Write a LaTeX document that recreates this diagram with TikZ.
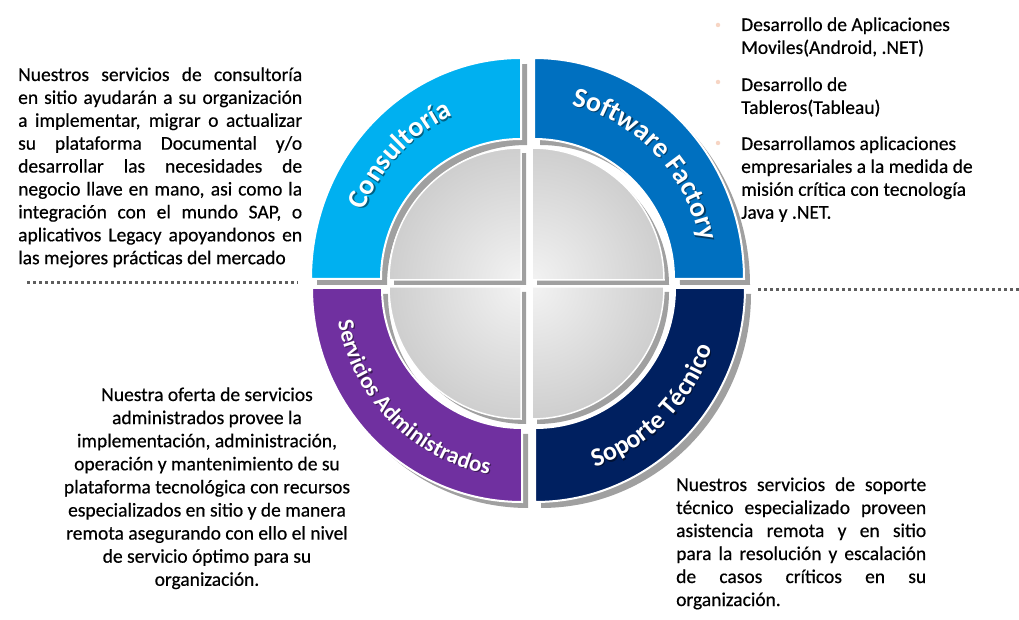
\documentclass[tikz,border=0pt]{standalone}
\usepackage{fontspec}
\setmainfont{Carlito}
\newfontfamily\bodyface[FakeBold=0.5]{Carlito}
\usetikzlibrary{decorations.text}

\definecolor{consult}{HTML}{00B0F0}
\definecolor{softf}{HTML}{0070C0}
\definecolor{servadm}{HTML}{7030A0}
\definecolor{soporte}{HTML}{002060}
\definecolor{shadowgray}{HTML}{A0A0A0}
\definecolor{dotgray}{HTML}{5E5E5E}
\definecolor{bulletpeach}{HTML}{F7D5C4}

% one ring quadrant (upper-left orientation), #1 = vertical outer radius
\newcommand\ringpath[1]{(-210,0) -- (-140,0) arc[start angle=180,end angle=90,radius=140]
  -- (0,#1) arc[start angle=90,end angle=180,x radius=210,y radius=#1] -- cycle}
% one quadrant of the inner disc
\newcommand\diskpath{(0,0) -- (-132,0) arc[start angle=180,end angle=90,radius=132] -- cycle}
% justified line of a given width
\newcommand\jl[2]{\makebox[#1][s]{#2}}
\newcommand\ringfont{\bfseries\fontsize{28}{28}\selectfont}
\newcommand\ringfontsm{\bfseries\fontsize{23}{23}\selectfont}
\newcommand\ringfontmd{\bfseries\fontsize{26}{26}\selectfont}
\newcommand\bodysize{\bodyface\fontsize{19.5}{22.9}\selectfont}

\tikzset{
  ringshadow/.style={fill=shadowgray},
  ringseg/.style={fill=#1, draw=white, line width=2pt},
  diskseg/.style={draw=white, line width=1.5pt},
  bodytext/.style={inner sep=0pt, text=black},
  dotline/.style={dotgray, line width=3pt, dash pattern=on 3.4pt off 2.6pt},
  bulletdot/.style={circle, fill=bulletpeach, minimum size=4.5pt, inner sep=0pt},
  labelshadow/.style={opacity=0.45},
}

\begin{document}
\begin{tikzpicture}[x=1pt,y=1pt]
\useasboundingbox (0,0) rectangle (1019,619);

% ---------------- ring: shadows ----------------
\fill[ringshadow, shift={(6,-6)}, shift={(521,340)}] \ringpath{221};
\fill[ringshadow, shift={(6,-6)}, shift={(534,340)}, xscale=-1] \ringpath{221};
\fill[ringshadow, shift={(6,-6)}, shift={(522,331)}, yscale=-1] \ringpath{214};
\fill[ringshadow, shift={(6,-6)}, shift={(535,331)}, xscale=-1, yscale=-1] \ringpath{214};

% ---------------- ring: coloured quadrants ----------------
\path[ringseg=consult, shift={(521,340)}] \ringpath{221};
\path[ringseg=softf, shift={(534,340)}, xscale=-1] \ringpath{221};
\path[ringseg=servadm, shift={(522,331)}, yscale=-1] \ringpath{214};
\path[ringseg=soporte, shift={(535,331)}, xscale=-1, yscale=-1] \ringpath{214};

% ---------------- inner disc ----------------
\foreach \cx/\cy/\sx/\sy/\nm in {521/339/1/1/dtl, 532/339/-1/1/dtr, 521/332/1/-1/dbl, 532/332/-1/-1/dbr}{
  \fill[ringshadow, shift={(5,-5)}, shift={(\cx,\cy)}, xscale=\sx, yscale=\sy] \diskpath;
  \begin{scope}[shift={(\cx,\cy)}, xscale=\sx, yscale=\sy]
    \begin{scope}
      \clip \diskpath;
      \shade[inner color=black!5, outer color=black!21] (0,0) circle[radius=150];
    \end{scope}
    \draw[diskseg] \diskpath;
    \coordinate (\nm) at (0,0);
  \end{scope}
}

% ---------------- ring labels ----------------
\begin{scope}[labelshadow, shift={(1.2,-1.2)}]
\path[shift={(521,340)}, decorate, decoration={text along path, text align=center,
  text color=black, text={|\ringfont|Consultoría}}]
  (-170,0) arc[start angle=180,end angle=90,x radius=170,y radius=178];
\path[shift={(534,340)}, decorate, decoration={text along path, text align=center,
  text color=black, text={|\ringfont|Software Factory}}]
  (0,178) arc[start angle=90,end angle=0,x radius=170,y radius=178];
\path[shift={(522,331)}, decorate, decoration={text along path, text align=center,
  text color=black, text={|\ringfontsm|Servicios Administrados}}]
  (-187,0) arc[start angle=180,end angle=270,x radius=187,y radius=189];
\path[shift={(535,331)}, decorate, decoration={text along path, text align=center,
  text color=black, text={|\ringfontmd|Soporte Técnico}}]
  (0,-189) arc[start angle=270,end angle=360,x radius=187,y radius=189];
\end{scope}

\path[shift={(521,340)}, decorate, decoration={text along path, text align=center,
  text color=white, text={|\ringfont|Consultoría}}]
  (-170,0) arc[start angle=180,end angle=90,x radius=170,y radius=178];
\path[shift={(534,340)}, decorate, decoration={text along path, text align=center,
  text color=white, text={|\ringfont|Software Factory}}]
  (0,178) arc[start angle=90,end angle=0,x radius=170,y radius=178];
\path[shift={(522,331)}, decorate, decoration={text along path, text align=center,
  text color=white, text={|\ringfontsm|Servicios Administrados}}]
  (-187,0) arc[start angle=180,end angle=270,x radius=187,y radius=189];
\path[shift={(535,331)}, decorate, decoration={text along path, text align=center,
  text color=white, text={|\ringfontmd|Soporte Técnico}}]
  (0,-189) arc[start angle=270,end angle=360,x radius=187,y radius=189];

% ---------------- dotted separators ----------------
\coordinate (sepL1) at (27,336);
\coordinate (sepL2) at (298,336);
\coordinate (sepR1) at (758,329);
\coordinate (sepR2) at (1019,329);
\draw[dotline] (sepL1) -- (sepL2);
\draw[dotline] (sepR1) -- (sepR2);

% ---------------- texts ----------------
\node[bodytext, anchor=base west] (consulttxt) at (18,538) {\parbox[t]{284pt}{\bodysize
\jl{284pt}{Nuestros servicios de consultoría}\\
\jl{284pt}{en sitio ayudarán a su organización}\\
\jl{284pt}{a implementar, migrar o actualizar}\\
\jl{284pt}{su plataforma Documental y/o}\\
\jl{284pt}{desarrollar las necesidades de}\\
\jl{284pt}{negocio llave en mano, asi como la}\\
\jl{284pt}{integración con el mundo SAP, o}\\
\jl{284pt}{aplicativos Legacy apoyandonos en}\\
las mejores prácticas del mercado}};

\node[bulletdot] (b1) at (718,594) {};
\node[bulletdot] (b2) at (718,537) {};
\node[bulletdot] (b3) at (718,476) {};
\node[bodytext, anchor=base west] (sf1) at (741,588) {\parbox[t]{270pt}{\raggedright\bodysize
Desarrollo de Aplicaciones\\ Moviles(Android, .NET)}};
\node[bodytext, anchor=base west] (sf2) at (741,528) {\parbox[t]{270pt}{\raggedright\bodysize
Desarrollo de\\ Tableros(Tableau)}};
\node[bodytext, anchor=base west] (sf3) at (741,469) {\parbox[t]{270pt}{\raggedright\bodysize
Desarrollamos aplicaciones\\ empresariales a la medida de\\ misión crítica con tecnología\\ Java y .NET.}};

\node[bodytext, anchor=base] (admtxt) at (207,218) {\parbox[t]{340pt}{\centering\bodyface\fontsize{19.5}{23.1}\selectfont
Nuestra oferta de servicios\\
administrados provee la\\
implementación, administración,\\
operación y mantenimiento de su\\
plataforma tecnológica con recursos\\
especializados en sitio y de manera\\
remota asegurando con ello el nivel\\
de servicio óptimo para su\\
organización.}};

\node[bodytext, anchor=base west] (soptxt) at (676,128) {\parbox[t]{250pt}{\bodyface\fontsize{19.5}{23}\selectfont
\jl{250pt}{Nuestros servicios de soporte}\\
\jl{250pt}{técnico especializado proveen}\\
\jl{250pt}{asistencia remota y en sitio}\\
\jl{250pt}{para la resolución y escalación}\\
\jl{250pt}{de casos críticos en su}\\
organización.}};
\end{tikzpicture}
\end{document}
